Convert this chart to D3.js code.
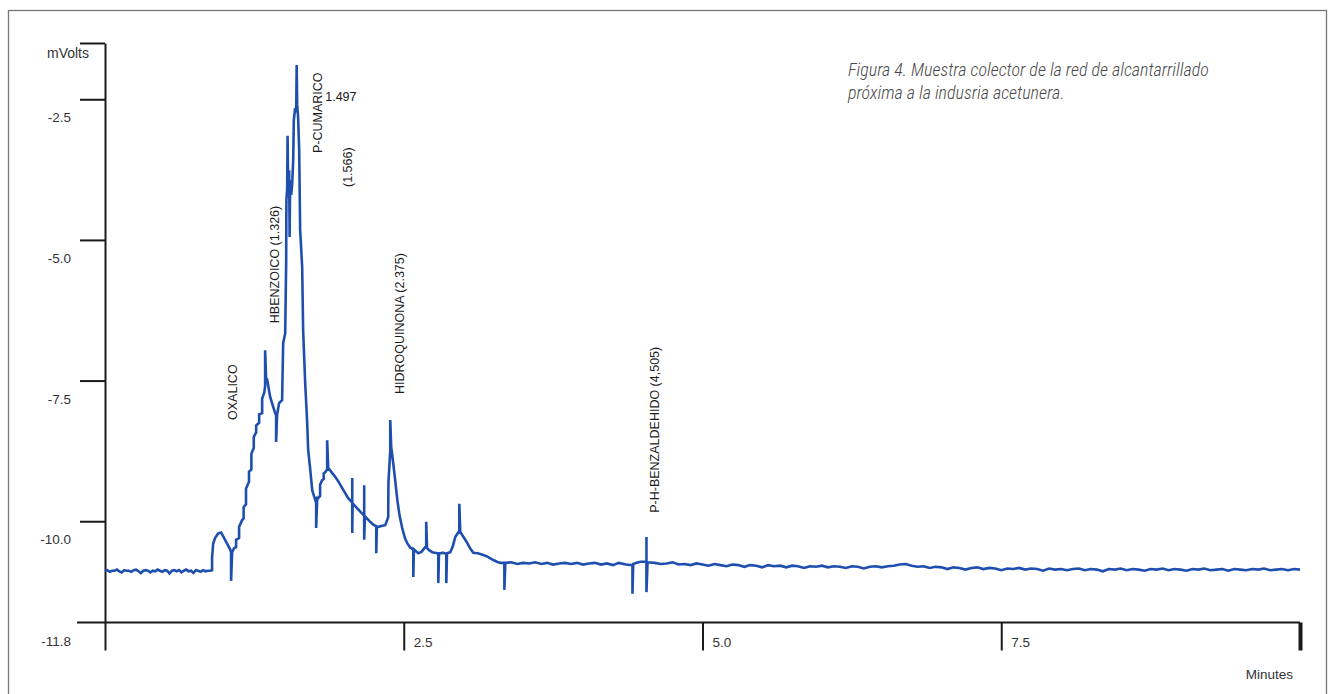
<!DOCTYPE html>
<html>
<head>
<meta charset="utf-8">
<script src="https://cdn.jsdelivr.net/npm/d3@7/dist/d3.min.js"></script>
<style>
  html, body { margin: 0; padding: 0; background: #ffffff; }
  svg { display: block; }
  text { font-family: "Liberation Sans", Arial, sans-serif; fill: #222; }
</style>
</head>
<body>
<svg id="chart" width="1337" height="694"></svg>
<script>
// ---------------- DATA ----------------
const title = ["Figura 4. Muestra colector de la red de alcantarrillado",
               "próxima a la indusria acetunera."];
const yAxisTitle = "mVolts";
const xAxisTitle = "Minutes";
const yTickValues = [-2.5, -5.0, -7.5, -10.0, -11.8];
const yTickLabels = ["-2.5", "-5.0", "-7.5", "-10.0", "-11.8"];
const xTickValues = [0, 2.5, 5.0, 7.5, 10.0];
const xTickLabels = ["", "2.5", "5.0", "7.5", ""];
const yDomain = [-11.8, -1.5];
const xDomain = [0, 10];

// peak annotations (retention time where the label sits, mV level of label start)
const peakNames  = ["OXALICO", "HBENZOICO (1.326)", "P-CUMARICO", "(1.566)", "HIDROQUINONA (2.375)", "P-H-BENZALDEHIDO (4,505)"];
const peakTimes  = [1.072, 1.424, 1.784, 2.035, 2.471, 4.606];
const peakLevels = [-8.20, -6.48, -3.455, -4.06, -7.74, -9.85];
const peakValueText = "1.497";
const peakValueTime = 1.843;
const peakValueLevel = -2.53;

// detector signal [minutes, mVolts]
const trace = [
  [0.00,-10.88],[0.02,-10.87],[0.04,-10.90],[0.06,-10.88],[0.08,-10.88],[0.10,-10.86],[0.12,-10.89],
  [0.14,-10.91],[0.16,-10.87],[0.18,-10.88],[0.20,-10.88],[0.22,-10.90],[0.24,-10.87],[0.26,-10.86],
  [0.28,-10.89],[0.30,-10.92],[0.32,-10.88],[0.34,-10.87],[0.36,-10.88],[0.38,-10.91],[0.40,-10.88],
  [0.42,-10.89],[0.44,-10.86],[0.46,-10.88],[0.48,-10.90],[0.50,-10.87],[0.52,-10.88],[0.54,-10.93],
  [0.56,-10.88],[0.58,-10.87],[0.60,-10.89],[0.62,-10.87],[0.64,-10.91],[0.66,-10.88],[0.68,-10.86],
  [0.70,-10.89],[0.72,-10.88],[0.74,-10.92],[0.76,-10.87],[0.78,-10.88],[0.80,-10.90],[0.82,-10.87],
  [0.84,-10.89],[0.86,-10.88],[0.88,-10.88],
  [0.896,-10.87],[0.896,-10.65],[0.905,-10.40],[0.921,-10.30],[0.946,-10.22],[0.972,-10.20],
  [1.005,-10.33],[1.047,-10.50],[1.055,-10.55],[1.055,-11.06],[1.064,-10.55],[1.080,-10.48],
  [1.097,-10.46],[1.097,-10.33],[1.122,-10.30],[1.122,-10.10],[1.147,-9.98],[1.160,-9.95],
  [1.160,-9.75],[1.180,-9.70],[1.180,-9.42],[1.205,-9.30],[1.205,-9.12],[1.225,-9.08],[1.225,-8.80],
  [1.245,-8.70],[1.245,-8.50],[1.265,-8.42],[1.265,-8.30],[1.290,-8.25],[1.290,-8.10],[1.315,-8.08],
  [1.315,-7.82],[1.332,-7.72],[1.340,-7.60],[1.340,-6.96],[1.348,-7.45],[1.357,-7.48],[1.382,-7.79],
  [1.424,-8.08],[1.432,-8.11],[1.432,-8.59],[1.440,-8.11],[1.457,-7.90],[1.482,-7.85],[1.491,-6.83],
  [1.508,-6.66],[1.516,-5.40],[1.518,-4.29],[1.524,-4.11],[1.528,-3.15],[1.532,-4.00],[1.541,-3.76],
  [1.545,-4.95],[1.549,-3.94],[1.558,-4.20],[1.566,-4.02],[1.575,-3.58],[1.580,-2.87],[1.591,-2.66],
  [1.600,-2.73],[1.604,-1.89],[1.608,-2.60],[1.616,-2.82],[1.625,-3.40],[1.633,-4.82],[1.650,-5.48],
  [1.658,-6.60],[1.675,-7.54],[1.692,-8.25],[1.700,-8.73],[1.717,-9.07],[1.734,-9.45],[1.759,-9.62],
  [1.767,-9.60],[1.767,-10.12],[1.775,-9.62],[1.784,-9.59],[1.800,-9.55],[1.800,-9.35],[1.817,-9.27],
  [1.830,-9.25],[1.830,-9.15],[1.843,-9.13],[1.859,-9.08],
  [1.859,-8.56],[1.868,-9.05],[1.900,-9.14],[1.926,-9.21],[1.955,-9.30],[1.985,-9.41],[2.010,-9.50],
  [2.035,-9.59],[2.069,-9.67],[2.069,-9.23],
  [2.069,-10.21],[2.072,-9.68],[2.111,-9.77],[2.140,-9.84],[2.169,-9.90],[2.169,-9.36],[2.169,-10.33],[2.175,-9.91],
  [2.219,-10.01],[2.245,-10.06],[2.270,-10.09],[2.270,-10.57],[2.275,-10.10],[2.286,-10.10],[2.320,-10.08],[2.345,-10.07],
  [2.370,-9.93],[2.372,-9.30],[2.387,-8.75],[2.387,-8.20],[2.395,-8.68],[2.412,-8.97],[2.430,-9.30],[2.446,-9.62],
  [2.465,-9.90],[2.487,-10.12],[2.510,-10.30],[2.529,-10.39],[2.555,-10.47],[2.580,-10.50],[2.580,-10.99],[2.585,-10.50],[2.621,-10.57],
  [2.650,-10.54],[2.680,-10.46],[2.688,-10.45],[2.688,-10.01],[2.695,-10.48],[2.715,-10.52],[2.739,-10.55],[2.781,-10.57],
  [2.789,-10.57],[2.789,-11.10],[2.795,-10.58],[2.825,-10.56],[2.856,-10.58],[2.856,-11.10],[2.862,-10.57],
  [2.889,-10.55],[2.910,-10.45],[2.931,-10.28],[2.965,-10.17],[2.965,-9.69],[2.973,-10.19],[3.000,-10.28],[3.032,-10.39],
  [3.055,-10.48],[3.082,-10.56],[3.120,-10.57],[3.166,-10.60],[3.200,-10.63],[3.250,-10.69],[3.280,-10.72],[3.308,-10.74],[3.342,-10.74],[3.342,-11.22],
  [3.350,-10.74],[3.40,-10.73],[3.45,-10.76],[3.50,-10.74],[3.55,-10.75],[3.60,-10.73],[3.65,-10.76],
  [3.70,-10.74],[3.75,-10.77],[3.80,-10.75],[3.85,-10.74],[3.90,-10.76],[3.95,-10.74],[4.00,-10.77],
  [4.05,-10.75],[4.10,-10.74],[4.15,-10.77],[4.20,-10.75],[4.25,-10.78],[4.30,-10.74],[4.36,-10.77],
  [4.414,-10.78],[4.414,-11.29],[4.420,-10.76],[4.45,-10.74],[4.481,-10.72],[4.531,-10.72],[4.531,-10.28],
  [4.531,-11.26],[4.540,-10.73],
  [4.60,-10.74],[4.65,-10.76],[4.70,-10.75],[4.75,-10.73],[4.80,-10.77],[4.85,-10.76],[4.90,-10.78],
  [4.95,-10.75],[5.00,-10.77],[5.05,-10.79],[5.10,-10.76],[5.15,-10.78],[5.20,-10.80],[5.25,-10.77],
  [5.30,-10.78],[5.35,-10.81],[5.40,-10.78],[5.45,-10.79],[5.50,-10.82],[5.55,-10.78],[5.60,-10.80],
  [5.65,-10.79],[5.70,-10.82],[5.75,-10.79],[5.80,-10.80],[5.85,-10.83],[5.90,-10.80],[5.95,-10.81],
  [6.00,-10.79],[6.05,-10.82],[6.10,-10.80],[6.15,-10.81],[6.20,-10.83],[6.25,-10.80],[6.30,-10.81],
  [6.35,-10.84],[6.40,-10.81],[6.45,-10.80],[6.50,-10.82],[6.55,-10.80],[6.60,-10.79],[6.65,-10.77],
  [6.70,-10.76],[6.75,-10.79],[6.80,-10.81],[6.85,-10.80],[6.90,-10.83],[6.95,-10.81],[7.00,-10.82],
  [7.05,-10.85],[7.10,-10.82],[7.15,-10.83],[7.20,-10.86],[7.25,-10.83],[7.30,-10.82],[7.35,-10.85],
  [7.40,-10.83],[7.45,-10.84],[7.50,-10.87],[7.55,-10.84],[7.60,-10.85],[7.65,-10.83],[7.70,-10.86],
  [7.75,-10.84],[7.80,-10.85],[7.85,-10.88],[7.90,-10.84],[7.95,-10.86],[8.00,-10.85],[8.05,-10.87],
  [8.10,-10.85],[8.15,-10.84],[8.20,-10.87],[8.25,-10.85],[8.30,-10.86],[8.35,-10.89],[8.40,-10.85],
  [8.45,-10.86],[8.50,-10.84],[8.55,-10.87],[8.60,-10.85],[8.65,-10.86],[8.70,-10.88],[8.75,-10.85],
  [8.80,-10.86],[8.85,-10.84],[8.90,-10.87],[8.95,-10.85],[9.00,-10.86],[9.05,-10.88],[9.10,-10.85],
  [9.15,-10.86],[9.20,-10.84],[9.25,-10.87],[9.30,-10.86],[9.35,-10.85],[9.40,-10.88],[9.45,-10.85],
  [9.50,-10.86],[9.55,-10.87],[9.60,-10.85],[9.65,-10.86],[9.70,-10.84],[9.75,-10.87],[9.80,-10.86],
  [9.85,-10.85],[9.90,-10.87],[9.95,-10.85],[10.00,-10.86]
];

// ---------------- DRAW ----------------
const svg = d3.select("#chart");

// outer frame
svg.append("rect")
  .attr("x", 8.5).attr("y", 10.5).attr("width", 1318).attr("height", 720)
  .attr("fill", "none").attr("stroke", "#777").attr("stroke-width", 1.3);

const x = d3.scaleLinear().domain(xDomain).range([105, 1300]);
const y = d3.scaleLinear().domain(yDomain).range([622.5, 43]);

const axisColor = "#1a1a1a";

// y axis
const yAxis = svg.append("g")
  .attr("transform", "translate(105,0)")
  .call(d3.axisLeft(y).tickValues([yDomain[1]].concat(yTickValues.slice(0, 4))).tickSize(25).tickFormat("").tickSizeOuter(0));
yAxis.select(".domain").attr("stroke", axisColor).attr("stroke-width", 2);
yAxis.selectAll(".tick line").attr("stroke", axisColor).attr("stroke-width", 2);

// y tick labels (drawn below the tick mark)
svg.append("g").selectAll("text")
  .data(yTickValues)
  .join("text")
  .attr("x", 71).attr("y", d => y(d) + 23)
  .attr("text-anchor", "end")
  .style("font-size", "13.5px")
  .style("fill", "#333")
  .text((d, i) => yTickLabels[i]);

svg.append("text")
  .attr("x", 47).attr("y", 58)
  .style("font-size", "14px").style("fill", "#333")
  .text(yAxisTitle);

// x axis
const xAxis = svg.append("g")
  .attr("transform", "translate(0,622.5)")
  .call(d3.axisBottom(x).tickValues(xTickValues).tickSize(28).tickFormat("").tickSizeOuter(0));
xAxis.select(".domain").attr("stroke", axisColor).attr("stroke-width", 2)
  .attr("d", `M77,0H${x(xDomain[1])}`);
xAxis.selectAll(".tick line").attr("stroke", axisColor)
  .attr("stroke-width", (d) => d === xDomain[1] ? 4 : 2);

svg.append("g").selectAll("text")
  .data(xTickValues)
  .join("text")
  .attr("x", d => x(d) + 10).attr("y", 647)
  .style("font-size", "13.5px").style("fill", "#333")
  .text((d, i) => xTickLabels[i]);

svg.append("text")
  .attr("x", 1293).attr("y", 679)
  .attr("text-anchor", "end")
  .style("font-size", "13.5px").style("fill", "#333")
  .text(xAxisTitle);

// signal
const line = d3.line().x(d => x(d[0])).y(d => y(d[1])).curve(d3.curveLinear);
svg.append("path")
  .datum(trace)
  .attr("d", line)
  .attr("fill", "none")
  .attr("stroke", "#1f4fae")
  .attr("stroke-width", 2.6)
  .attr("stroke-linejoin", "miter");

// peak labels (vertical)
svg.append("g").selectAll("text")
  .data(peakNames)
  .join("text")
  .attr("transform", (d, i) => `translate(${x(peakTimes[i])},${y(peakLevels[i])}) rotate(-90)`)
  .attr("dominant-baseline", "central")
  .style("font-size", "12.5px")
  .style("fill", "#1a1a1a")
  .text(d => d);

svg.append("text")
  .attr("x", x(peakValueTime)).attr("y", y(peakValueLevel))
  .style("font-size", "12.5px").style("fill", "#1a1a1a")
  .text(peakValueText);

// figure caption
svg.append("g").selectAll("text")
  .data(title)
  .join("text")
  .attr("x", 848).attr("y", (d, i) => 76 + i * 23)
  .style("font-family", "'Liberation Sans Narrow', 'Roboto Condensed', 'Arial Narrow', Roboto, sans-serif")
  .style("font-style", "italic")
  .style("font-weight", "300")
  .style("font-size", "18px")
  .style("fill", "#4a4a4a")
  .text(d => d);
</script>
</body>
</html>
